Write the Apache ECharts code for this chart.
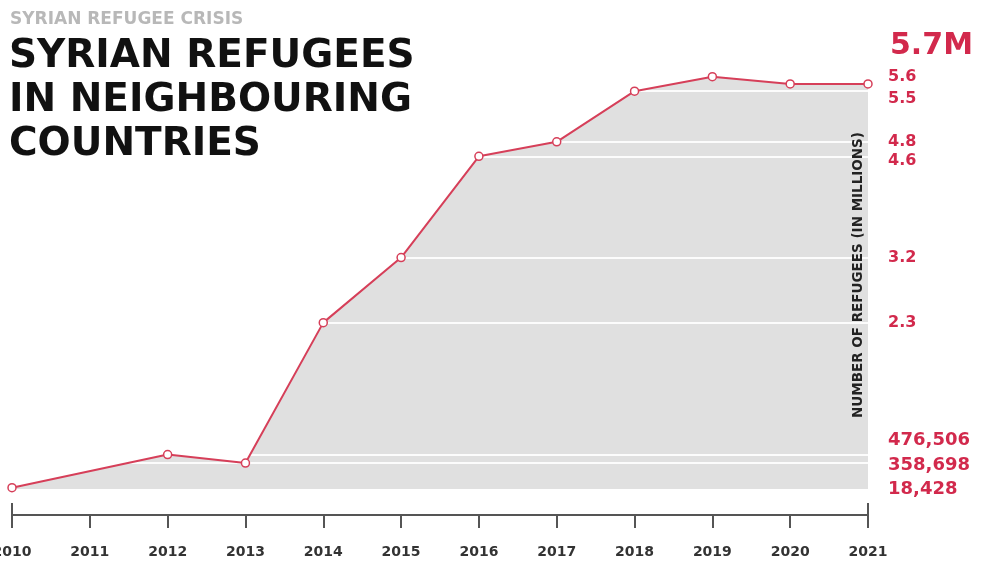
<!DOCTYPE html>
<html>
<head>
<meta charset="utf-8">
<script src="https://cdn.jsdelivr.net/npm/echarts@6/dist/echarts.min.js"></script>
<style>html,body{margin:0;padding:0;background:#fff;}#c{width:990px;height:566px;}</style>
</head>
<body>
<div id="c"></div>
<script>
const years = ['2010','2011','2012','2013','2014','2015','2016','2017','2018','2019','2020','2021'];
// refugees in millions (2011 not marked in the chart)
const refugees = [0.018428, null, 0.476506, 0.358698, 2.3, 3.2, 4.6, 4.8, 5.5, 5.7, 5.6, 5.6];
const labelValues = [0.018428, 0.358698, 0.476506, 2.3, 3.2, 4.6, 4.8, 5.5, 5.6];
const labelTexts = ['18,428', '358,698', '476,506', '2.3', '3.2', '4.6', '4.8', '5.5', '5.6'];
const gridValues = [0.358698, 0.476506, 2.3, 3.2, 4.6, 4.8, 5.5];
const peakText = '5.7M';
const kicker = 'SYRIAN REFUGEE CRISIS';
const titleLines = ['SYRIAN REFUGEES', 'IN NEIGHBOURING', 'COUNTRIES'];
const yName = 'NUMBER OF REFUGEES (IN MILLIONS)';

const RED = '#d63f59';
const LABEL_RED = '#d2294c';
const FONT = 'DejaVu Sans';
const nudge = {'476,506': 'bigup', '358,698': 'big', '18,428': 'big', '5.6': 'up', '5.5': 'dn', '4.6': 'dn2'};

const chart = echarts.init(document.getElementById('c'));
chart.setOption({
  animation: false,
  backgroundColor: '#fff',
  grid: {left: 12, right: 122, top: 55, bottom: 77, containLabel: false, outerBoundsMode: 'none'},
  xAxis: [{
    type: 'category', data: years, boundaryGap: false, offset: 26, position: 'bottom',
    axisLine: {onZero: false, lineStyle: {color: '#555', width: 2}},
    axisTick: {show: true, length: 13, alignWithLabel: true, lineStyle: {color: '#555', width: 2}},
    axisLabel: {color: '#333', fontFamily: FONT, fontWeight: 'bold', fontSize: 14, margin: 30},
    splitLine: {show: false}
  }, {
    type: 'category', data: years, boundaryGap: false, offset: 26, position: 'bottom',
    axisLine: {show: false, onZero: false},
    axisTick: {show: true, inside: true, length: 12, interval: function (i) { return i === 0 || i === years.length - 1; }, lineStyle: {color: '#555', width: 2}},
    axisLabel: {show: false}, splitLine: {show: false}
  }],
  yAxis: {
    type: 'value', position: 'right', min: 0, max: 6,
    axisLine: {show: false}, axisTick: {show: false}, splitLine: {show: false},
    axisLabel: {
      customValues: labelValues, margin: 20, align: 'left',
      color: LABEL_RED, fontFamily: FONT, fontWeight: 'bold', fontSize: 16,
      formatter: function (v) {
        let best = 0;
        labelValues.forEach(function (lv, i) { if (Math.abs(lv - v) < Math.abs(labelValues[best] - v)) best = i; });
        const t = labelTexts[best];
        return nudge[t] ? '{' + nudge[t] + '|' + t + '}' : t;
      },
      rich: {
        up: {color: LABEL_RED, fontFamily: FONT, fontWeight: 'bold', fontSize: 16, padding: [0, 0, 14, 0]},
        dn: {color: LABEL_RED, fontFamily: FONT, fontWeight: 'bold', fontSize: 16, padding: [16, 0, 0, 0]},
        dn2: {color: LABEL_RED, fontFamily: FONT, fontWeight: 'bold', fontSize: 16, padding: [10, 0, 0, 0]},
        big: {color: LABEL_RED, fontFamily: FONT, fontWeight: 'bold', fontSize: 18, padding: [4, 0, 0, 0]},
        bigup: {color: LABEL_RED, fontFamily: FONT, fontWeight: 'bold', fontSize: 18, padding: [0, 0, 28, 0]}
      }
    }
  },
  series: [{
    type: 'line', data: refugees, connectNulls: true, xAxisIndex: 0,
    symbol: 'none', lineStyle: {width: 0}, z: 1,
    areaStyle: {color: '#e0e0e0', opacity: 1},
    markLine: {
      silent: true, symbol: 'none', z: 3, animation: false,
      label: {show: false},
      lineStyle: {color: '#ffffff', width: 2, type: 'solid', opacity: 0.9},
      data: gridValues.map(function (v) { return {yAxis: v}; })
    }
  }, {
    type: 'line', data: refugees, connectNulls: true, xAxisIndex: 0, z: 10,
    symbol: 'circle', symbolSize: 8,
    itemStyle: {color: '#fff', borderColor: RED, borderWidth: 1.5},
    lineStyle: {color: RED, width: 2}
  }],
  graphic: [
    {type: 'text', left: 10, top: 11, z: 100, style: {text: kicker, fill: '#b8b8b8', font: 'bold 17px "DejaVu Sans"'}},
    {type: 'text', left: 9, top: 35, z: 100, style: {text: titleLines.join('\n'), fill: '#111', font: 'bold 39px "DejaVu Sans"', lineHeight: 44}},
    {type: 'text', left: 890, top: 31, z: 100, style: {text: peakText, fill: LABEL_RED, font: 'bold 30px "DejaVu Sans"'}},
    {type: 'text', x: 858, y: 275, rotation: Math.PI / 2, z: 100,
     style: {text: yName, x: 0, y: 0, align: 'center', verticalAlign: 'middle', fill: '#222', font: 'bold 13.5px "DejaVu Sans"'}}
  ]
});
</script>
</body>
</html>
